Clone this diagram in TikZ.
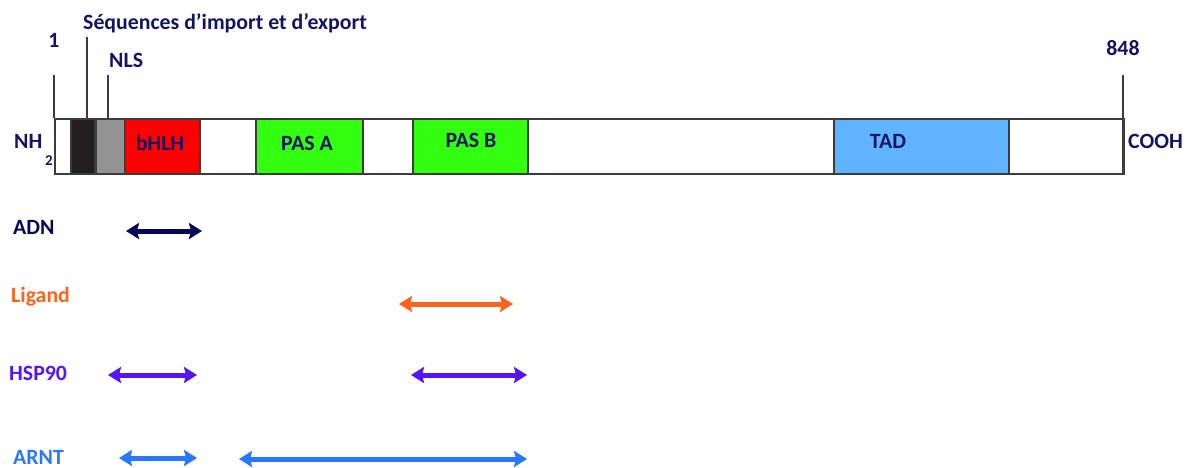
\documentclass[tikz,border=0pt]{standalone}
\usepackage{fontspec}
\setmainfont{Carlito}
\usetikzlibrary{arrows.meta}
\definecolor{navy}{RGB}{20,20,100}
\definecolor{adncol}{RGB}{5,5,90}
\definecolor{ligcol}{RGB}{250,100,30}
\definecolor{hspcol}{RGB}{85,20,250}
\definecolor{arntcol}{RGB}{40,120,255}
\definecolor{pasgreen}{RGB}{51,255,17}
\definecolor{tadblue}{RGB}{96,180,255}
\definecolor{boxline}{RGB}{60,60,60}
\definecolor{seqblack}{RGB}{35,31,32}
\definecolor{nlsgray}{RGB}{147,147,147}
\begin{document}
\begin{tikzpicture}[x=1pt,y=-1pt,
  font=\fontsize{21.8}{24}\selectfont\bfseries,
  lbl/.style={inner sep=0pt,text=navy},
  dom/.style={draw=boxline,line width=2pt,anchor=north west,minimum height=55pt,inner sep=0pt,text=navy},
  tick/.style={draw=boxline,line width=2pt},
  dbl/.style={line width=5pt,{Stealth[length=13pt,width=16pt,inset=2pt]}-{Stealth[length=13pt,width=16pt,inset=2pt]}}
]
\useasboundingbox (0,0) rectangle (1189,468);
% protein bar
\node[draw=boxline,line width=1.6pt,anchor=north west,minimum width=1069pt,minimum height=55pt,inner sep=0pt] (bar) at (54,118) {};
\node[dom,fill=seqblack,minimum width=24pt] (seq) at (70,118) {};
\node[dom,fill=nlsgray,minimum width=29pt] (nls) at (95,118) {};
\node[dom,fill=red,minimum width=75pt] (bhlh) at (124,118) {};
\node[dom,fill=pasgreen,minimum width=107pt] (pasa) at (255,118) {};
\node[dom,fill=pasgreen,minimum width=115pt] (pasb) at (412,118) {};
\node[dom,fill=tadblue,minimum width=175pt] (tad) at (833,118) {};
% domain labels
\node[lbl,anchor=base] (lbhlh) at (160,150) {bHLH};
\node[lbl,anchor=base] (lpasa) at (307,150) {PAS A};
\node[lbl,anchor=base] (lpasb) at (471,148) {PAS B};
\node[lbl,anchor=base] (ltad) at (888,149) {TAD};
% ends
\node[lbl,anchor=base west] (nh) at (14,149) {NH};
\node[lbl,anchor=base west,font=\fontsize{15}{17}\selectfont\bfseries] (two) at (45,166) {2};
\node[lbl,anchor=base west] (cooh) at (1128,149) {COOH};
% ticks
\coordinate (t1) at (54,75);
\coordinate (tseq) at (87,37);
\coordinate (tnls) at (108,75);
\coordinate (tend) at (1123,75);
\draw[tick] (t1) -- (t1 |- bar.north);
\draw[tick] (tseq) -- (tseq |- bar.north);
\draw[tick] (tnls) -- (tnls |- bar.north);
\draw[tick] (tend) -- (tend |- bar.south);
\node[lbl,anchor=base] (one) at (54,48) {1};
\node[lbl,anchor=base west] (lseq) at (83,30) {Séquences d’import et d’export};
\node[lbl,anchor=base west] (lnls) at (109,68) {NLS};
\node[lbl,anchor=base] (l848) at (1123,56) {848};
% interaction labels
\node[lbl,anchor=base west,text=adncol] (adn) at (13,234) {ADN};
\node[lbl,anchor=base west,text=ligcol] (lig) at (11,302) {Ligand};
\node[lbl,anchor=base west,text=hspcol] (hsp) at (9,380) {HSP90};
\node[lbl,anchor=base west,text=arntcol] (arnt) at (13,464) {ARNT};
% interaction ranges
\coordinate (a1) at (126,231); \coordinate (a2) at (202,231);
\coordinate (l1) at (399,304); \coordinate (l2) at (513,304);
\coordinate (h1) at (108,375); \coordinate (h2) at (197,375);
\coordinate (h3) at (411,375); \coordinate (h4) at (527,375);
\coordinate (r1) at (119,458); \coordinate (r2) at (197,458);
\coordinate (r3) at (239,459); \coordinate (r4) at (527,459);
\draw[dbl,adncol] (a1) -- (a2);
\draw[dbl,ligcol] (l1) -- (l2);
\draw[dbl,hspcol] (h1) -- (h2);
\draw[dbl,hspcol] (h3) -- (h4);
\draw[dbl,arntcol] (r1) -- (r2);
\draw[dbl,arntcol] (r3) -- (r4);
\end{tikzpicture}
\end{document}
